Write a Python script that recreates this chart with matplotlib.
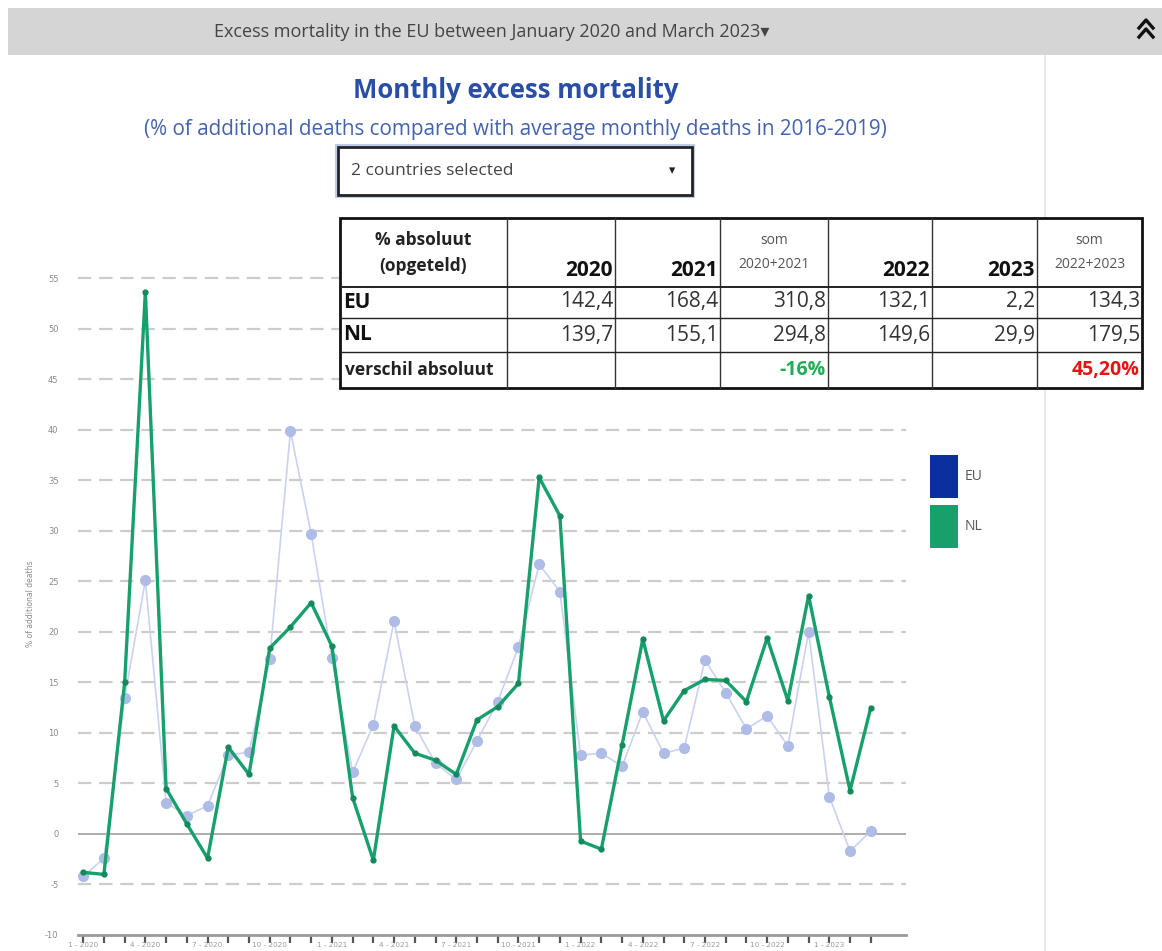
import matplotlib
matplotlib.use("Agg")
import matplotlib.pyplot as plt
from matplotlib.patches import Rectangle
from matplotlib.lines import Line2D

# ---------------- data ----------------
months = list(range(39))  # Jan 2020 .. Mar 2023
tick_labels = ["1 - 2020", "4 - 2020", "7 - 2020", "10 - 2020",
               "1 - 2021", "4 - 2021", "7 - 2021", "10 - 2021",
               "1 - 2022", "4 - 2022", "7 - 2022", "10 - 2022",
               "1 - 2023"]
eu = [-4.2, -2.4, 13.5, 25.1, 3.1, 1.8, 2.8, 7.8, 8.1, 17.3, 39.9, 29.7,
      17.4, 6.1, 10.8, 21.1, 10.7, 7.0, 5.4, 9.2, 13.1, 18.5, 26.7, 24.0,
      7.8, 8.0, 6.7, 12.1, 8.0, 8.5, 17.2, 14.0, 10.4, 11.7, 8.7, 20.0,
      3.7, -1.7, 0.3]
nl = [-3.8, -4.0, 15.0, 53.7, 4.5, 1.0, -2.4, 8.6, 5.9, 18.4, 20.5, 22.9,
      18.6, 3.6, -2.6, 10.7, 8.0, 7.3, 5.9, 11.3, 12.6, 14.9, 35.3, 31.5,
      -0.7, -1.5, 8.8, 19.3, 11.2, 14.2, 15.3, 15.2, 13.1, 19.4, 13.2, 23.6,
      13.6, 4.3, 12.5]
yticks = [-10, -5, 0, 5, 10, 15, 20, 25, 30, 35, 40, 45, 50, 55]

table_header = ["2020", "2021", "som|2020+2021", "2022", "2023", "som|2022+2023"]
table_eu = ["142,4", "168,4", "310,8", "132,1", "2,2", "134,3"]
table_nl = ["139,7", "155,1", "294,8", "149,6", "29,9", "179,5"]
table_diff = ["", "", "-16%", "", "", "45,20%"]

uifont = ["Open Sans", "DejaVu Sans"]

W, H = 1162, 951
fig = plt.figure(figsize=(W / 100, H / 100), dpi=100)
fig.patch.set_facecolor("white")


def fx(px):
    return px / W


def fy(py):
    return 1 - py / H


# ---------------- header bar ----------------
fig.patches.append(Rectangle((fx(8), fy(55)), fx(1162) - fx(8), fy(8) - fy(55),
                             transform=fig.transFigure, facecolor="#d5d5d5",
                             edgecolor="none", zorder=0))
fig.text(fx(492), fy(32), "Excess mortality in the EU between January 2020 and March 2023\u25be",
         ha="center", va="center", fontsize=13, color="#444444", family=uifont)
# double chevron
for dy in (0, 9):
    fig.lines.append(Line2D([fx(1139), fx(1146), fx(1153)],
                            [fy(37 - dy), fy(29 - dy), fy(37 - dy)],
                            transform=fig.transFigure, color="#111111", lw=2.4))
# right separator line
fig.lines.append(Line2D([fx(1045), fx(1045)], [fy(56), fy(951)],
                        transform=fig.transFigure, color="#e6e6e6", lw=1.2))

# ---------------- titles ----------------
fig.text(fx(516), fy(90), "Monthly excess mortality", ha="center", va="center",
         fontsize=18.5, fontweight="bold", color="#2a4ea6", family=uifont)
fig.text(fx(515), fy(129),
         "(% of additional deaths compared with average monthly deaths in 2016-2019)",
         ha="center", va="center", fontsize=14.9, color="#4563ad", family=uifont)

# dropdown
fig.patches.append(Rectangle((fx(336), fy(197)), fx(358), fy(145) - fy(197),
                             transform=fig.transFigure, facecolor="white",
                             edgecolor="#bccbea", lw=1.5, zorder=1))
fig.patches.append(Rectangle((fx(338), fy(195)), fx(354), fy(147) - fy(195),
                             transform=fig.transFigure, facecolor="white",
                             edgecolor="#222222", lw=2, zorder=2))
fig.text(fx(351), fy(171), "2 countries selected", ha="left", va="center",
         fontsize=12.5, color="#444444", family=uifont, zorder=3)
fig.text(fx(672), fy(171), "\u25be", ha="center", va="center",
         fontsize=9, color="#222222", family=uifont, zorder=3)

# ---------------- chart ----------------
ax_left, ax_right = 78, 906
ax_top, ax_bot = 273.4, 935
ax = fig.add_axes([fx(ax_left), fy(ax_bot), fx(ax_right) - fx(ax_left), fy(ax_top) - fy(ax_bot)])
ax.set_xlim(-0.25, 39.7)
ax.set_ylim(-10, 55.5)

for v in yticks:
    if v == 0:
        ax.axhline(v, color="#a0a0a0", lw=1.2, zorder=1)
    elif v > -10:
        ax.axhline(v, color="#cccccc", lw=1.6, ls=(0, (6, 3.5)), zorder=1)

ax.plot(months, eu, color="#c9d2f0", lw=1.2, marker="o", markersize=7,
        markerfacecolor="#aebce6", markeredgecolor="#aebce6", zorder=2)
ax.plot(months, nl, color="#17a06c", lw=2.4, marker="o", markersize=3.5,
        markerfacecolor="#148a5c", markeredgecolor="#148a5c", zorder=3)

for s in ("top", "right", "left"):
    ax.spines[s].set_visible(False)
ax.spines["bottom"].set_color("#9a9a9a")
ax.spines["bottom"].set_linewidth(2)

ax.set_yticks(yticks)
ax.set_yticklabels([str(v) for v in yticks], fontsize=6, color="#8a8a8a")
ax.tick_params(axis="y", length=0, pad=14)
ax.set_xticks(months)
ax.set_xticklabels(["" for _ in months])
ax.tick_params(axis="x", length=6, width=1.6, color="#555555", pad=2)
for i, lab in zip(months[::3], tick_labels):
    ax.annotate(lab, (i, -10), xytext=(0, -5.2), textcoords="offset points",
                ha="center", va="top", fontsize=5.2, color="#9a9a9a",
                annotation_clip=False)

ax.set_ylabel("% of additional deaths", fontsize=5.5, color="#8a8a8a", labelpad=7)
ax.patch.set_alpha(0)

# ---------------- legend ----------------
fig.patches.append(Rectangle((fx(930), fy(498)), fx(28), fy(0) - fy(43),
                             transform=fig.transFigure, facecolor="#0b2f9f", edgecolor="none"))
fig.patches.append(Rectangle((fx(930), fy(548)), fx(28), fy(0) - fy(43),
                             transform=fig.transFigure, facecolor="#17a06c", edgecolor="none"))
fig.text(fx(965), fy(476), "EU", ha="left", va="center", fontsize=10, color="#555566", family=uifont)
fig.text(fx(965), fy(527), "NL", ha="left", va="center", fontsize=10, color="#555566", family=uifont)

# ---------------- table ----------------
tx = [340, 507, 615, 720, 828, 932, 1037, 1142]
ty = [218, 287, 318, 352, 388]
tab = fig.add_axes([0, 0, 1, 1], zorder=5)
tab.set_xlim(0, W)
tab.set_ylim(H, 0)
tab.axis("off")
tab.patch.set_alpha(0)
tab.add_patch(Rectangle((tx[0], ty[0]), tx[-1] - tx[0], ty[-1] - ty[0],
                        facecolor="white", edgecolor="#111111", lw=2, zorder=1))
for x in tx[1:-1]:
    tab.plot([x, x], [ty[0], ty[-1]], color="#333333", lw=1, zorder=2)
for y in ty[1:-1]:
    tab.plot([tx[0], tx[-1]], [y, y], color="#222222", lw=1.4 if y == ty[1] else 1, zorder=2)

tf = dict(family=uifont, zorder=3)
tab.text((tx[0] + tx[1]) / 2, 240, "% absoluut", ha="center", va="center",
         fontsize=12.5, fontweight="bold", color="#222222", **tf)
tab.text((tx[0] + tx[1]) / 2, 266, "(opgeteld)", ha="center", va="center",
         fontsize=12.5, fontweight="bold", color="#222222", **tf)
for c, h in enumerate(table_header):
    xr = tx[c + 2]
    if h.startswith("som"):
        a, b = h.split("|")
        xc = (tx[c + 1] + tx[c + 2]) / 2
        tab.text(xc, 241, a, ha="center", va="center", fontsize=10, color="#555555", **tf)
        tab.text(xc, 264, b, ha="center", va="center", fontsize=10, color="#555555", **tf)
    else:
        tab.text(xr - 2, 270, h, ha="right", va="center", fontsize=15,
                 fontweight="bold", color="#111111", **tf)

rows = [("EU", table_eu, 302), ("NL", table_nl, 335)]
for name, vals, yc in rows:
    tab.text(tx[0] + 3, yc, name, ha="left", va="center", fontsize=15,
             fontweight="bold", color="#111111", **tf)
    for c, v in enumerate(vals):
        tab.text(tx[c + 2] - 2, yc, v, ha="right", va="center", fontsize=15,
                 color="#333333", **tf)
tab.text(tx[0] + 5, 370, "verschil absoluut", ha="left", va="center", fontsize=12.5,
         fontweight="bold", color="#222222", **tf)
for c, v in enumerate(table_diff):
    if v:
        col = "#1fae55" if v.startswith("-") else "#ee1111"
        tab.text(tx[c + 2] - 2, 370, v, ha="right", va="center", fontsize=14,
                 fontweight="bold", color=col, **tf)

fig.savefig("out.png", dpi=100)
